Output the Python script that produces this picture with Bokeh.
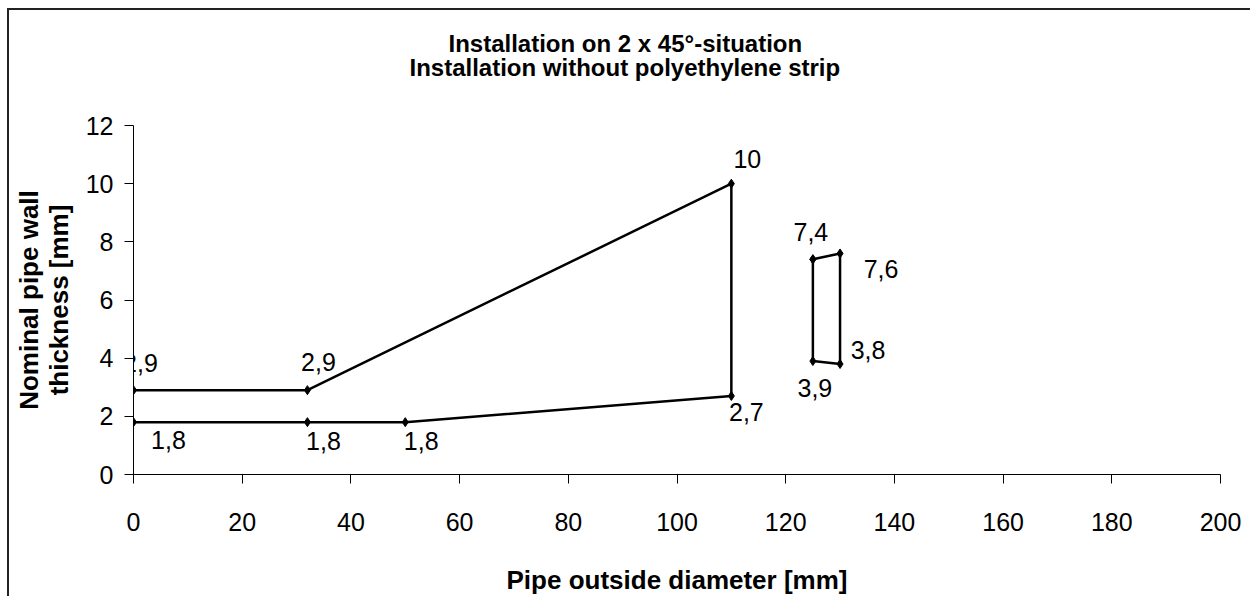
from bokeh.plotting import figure
from bokeh.models import Range1d, FixedTicker, ColumnDataSource, Title, Label
from bokeh.core.properties import value
from bokeh.embed import file_html
from bokeh.resources import INLINE

# ---------------- data ----------------
s1_x = [0, 32, 110, 110, 50, 32, 0]
s1_y = [2.9, 2.9, 10, 2.7, 1.8, 1.8, 1.8]
s2_x = [125, 130, 130, 125, 125]
s2_y = [7.4, 7.6, 3.8, 3.9, 7.4]

x_ticks = [0, 20, 40, 60, 80, 100, 120, 140, 160, 180, 200]
y_ticks = [0, 2, 4, 6, 8, 10, 12]

title_lines = ["Installation on 2 x 45°-situation",
               "Installation without polyethylene strip"]
x_title = "Pipe outside diameter [mm]"
y_title = "Nominal pipe wall\nthickness [mm]"

# label offsets (pixels, right / down) of each data label
s1_lab_dx = [7, 11, 16, 15, 16, 16, 35]
s1_lab_dy = [-27, -28, -25, 16, 19, 19, 18]
s2_lab_dx = [-2, 41, 28, 2]
s2_lab_dy = [-27, 16, -14, 27]

FONT = "Liberation Sans"

# ---------------- layout ----------------
W, H = 1243, 588
X0, X1 = 0, 200
Y0, Y1 = 0, 12
# frame edges in canvas pixels
FL, FR, FT, FB = 124, 1211, 115, 464
SX = (FR - FL) / (X1 - X0)
SY = (FB - FT) / (Y1 - Y0)

p = figure(width=W, height=H, output_backend="svg", toolbar_location=None,
           x_range=Range1d(X0, X1), y_range=Range1d(Y0, Y1),
           min_border_left=FL, min_border_right=W - FR,
           min_border_top=FT, min_border_bottom=H - FB)
p.styles = {"margin-left": "7px", "margin-top": "8px",
            "border-left": "2px solid #222", "border-top": "2px solid #222"}
p.background_fill_color = "white"
p.border_fill_color = "white"
p.outline_line_color = None
p.xgrid.visible = False
p.ygrid.visible = False

for ax in (p.xaxis[0], p.yaxis[0]):
    ax.axis_line_color = "black"
    ax.axis_line_width = 1
    ax.major_tick_line_color = "black"
    ax.major_tick_out = 9
    ax.major_tick_in = 0
    ax.minor_tick_line_color = None
    ax.major_label_text_font = FONT
    ax.major_label_text_font_size = "25px"
    ax.major_label_text_color = "black"
    ax.axis_label_text_font = FONT
    ax.axis_label_text_font_size = "26px"
    ax.axis_label_text_font_style = "bold"
    ax.axis_label_text_color = "black"
p.xaxis[0].ticker = FixedTicker(ticks=x_ticks)
p.yaxis[0].ticker = FixedTicker(ticks=y_ticks)
p.xaxis[0].major_label_standoff = 29
p.yaxis[0].major_label_standoff = 11
p.xaxis[0].axis_label = x_title
p.xaxis[0].axis_label_standoff = 31
p.yaxis[0].axis_label = y_title
p.yaxis[0].axis_label_standoff = 9
p.yaxis[0].axis_label_text_line_height = 1.0

# series
for xs, ys in ((s1_x, s1_y), (s2_x, s2_y)):
    p.line(xs, ys, line_color="black", line_width=2.5)
    p.scatter(xs, ys, marker="diamond", size=9, fill_color="black", line_color="black")


def fmt(v):
    return ("%g" % v).replace(".", ",")


lab_x, lab_y, lab_t, lab_dx, lab_dy = [], [], [], [], []
for i, dx in enumerate(s1_lab_dx):
    if i == 0:
        continue  # drawn as an unclipped Label below (it overlaps the y axis)
    lab_x.append(s1_x[i]); lab_y.append(s1_y[i]); lab_t.append(fmt(s1_y[i]))
    lab_dx.append(dx); lab_dy.append(s1_lab_dy[i])
for i, dx in enumerate(s2_lab_dx):
    lab_x.append(s2_x[i]); lab_y.append(s2_y[i]); lab_t.append(fmt(s2_y[i]))
    lab_dx.append(dx); lab_dy.append(s2_lab_dy[i])

src = ColumnDataSource(dict(x=lab_x, y=lab_y, t=lab_t, dx=lab_dx, dy=lab_dy))
p.text(x="x", y="y", text="t", x_offset="dx", y_offset="dy", source=src,
       text_font=value(FONT), text_font_size="25px", text_color="black",
       text_align="center", text_baseline="middle")

# first label, partly left of the y axis
p.add_layout(Label(x=(s1_x[0] - X0) * SX + s1_lab_dx[0],
                   y=(s1_y[0] - Y0) * SY - s1_lab_dy[0],
                   x_units="screen", y_units="screen", text=fmt(s1_y[0]),
                   text_font=FONT, text_font_size="25px", text_color="black",
                   text_align="center", text_baseline="middle"))

# title: two lines, each left-aligned with an offset so they centre on the chart
spacer = Title(text=" ", text_font_size="1px", standoff=42)
t2 = Title(text=title_lines[1], align="left", offset=276,
           text_font=FONT, text_font_size="24px", text_font_style="bold",
           text_color="black", standoff=0, text_line_height=1.0)
t1 = Title(text=title_lines[0], align="left", offset=315,
           text_font=FONT, text_font_size="24px", text_font_style="bold",
           text_color="black", standoff=-10, text_line_height=1.0)
p.add_layout(spacer, "above")
p.add_layout(t2, "above")
p.add_layout(t1, "above")

open("out.html", "w").write(file_html(p, INLINE))
